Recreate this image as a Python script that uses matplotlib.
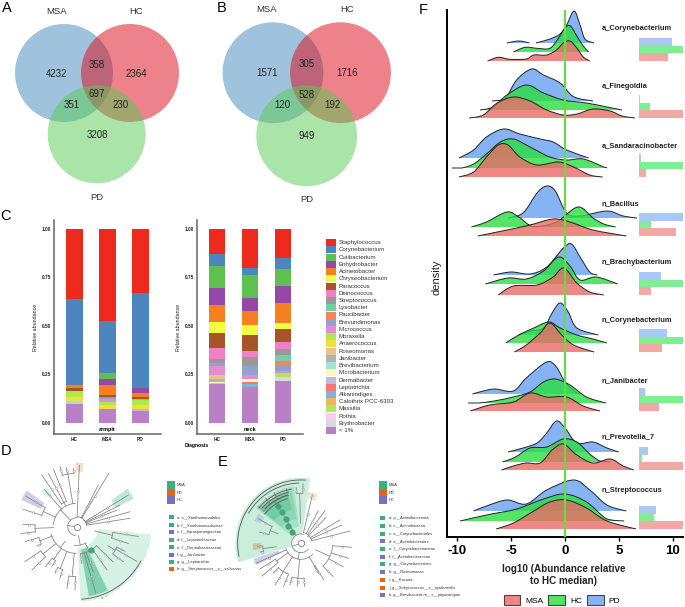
# -*- coding: utf-8 -*-
import numpy as np
import matplotlib
matplotlib.use('Agg')
import matplotlib.pyplot as plt
from matplotlib.patches import Circle, Rectangle, Patch, PathPatch
from matplotlib.path import Path

plt.rcParams['font.family'] = ['Liberation Sans', 'DejaVu Sans']
plt.rcParams['axes.unicode_minus'] = False

W, H = 685, 607

# ---- panels A, B : venn counts
venn_a = ['4232', '2364', '3208', '358', '351', '230', '697']
venn_b = ['1571', '1716', '949', '305', '120', '192', '528']

# ---- panel C : stacked bars, top of the stack first
taxa = ['Staphylococcus', 'Corynebacterium', 'Cutibacterium', 'Enhydrobacter', 'Acinetobacter',
        'Chryseobacterium', 'Paracoccus', 'Deinococcus', 'Streptococcus', 'Lysobacter', 'Paucibacter',
        'Brevundimonas', 'Micrococcus', 'Moraxella', 'Anaerococcus', 'Roseomonas', 'Janibacter',
        'Brevibacterium', 'Microbacterium', 'Dermabacter', 'Leptotrichia', 'Alkanindiges',
        'Calothrix PCC-6303', 'Massilia', 'Rothia', 'Erythrobacter', '< 1%']
taxa_colors = ['#EE2A1F', '#4D86BD', '#60C04F', '#9448A8', '#F58020', '#F2FF3C', '#A6552B', '#F27FC8',
               '#999999', '#73CFA5', '#F2875E', '#8FA3D3', '#E58BCE', '#AEE84F', '#F2DF3A', '#E5C48F',
               '#B3B3B3', '#9FE3D3', '#F7FBBD', '#BFB9DE', '#F4776B', '#80B3D6', '#F4B25F', '#B3E45F',
               '#F7CCE8', '#D9D9D9', '#B980C8']
groups = ['HC', 'MSA', 'PD']
armpit_hc = [.362, .445, 0, 0, .016, 0, .016, 0, 0, 0, 0, 0, 0, .028, .022, 0, 0, .017, 0, 0, 0, 0, 0, 0, 0, 0, .095]
armpit_msa = [.476, .271, .029, .028, .052, 0, .012, 0, .005, 0, 0, .007, .014, .016, .019, 0, 0, 0, 0, 0, 0, 0, 0, 0, 0, 0, .072]
armpit_pd = [.333, .490, 0, .028, .019, 0, .009, 0, 0, 0, 0, 0, .007, .026, .017, 0, 0, 0, 0, .014, 0, 0, 0, 0, 0, 0, .059]
neck_hc = [.126, .062, .116, .086, .086, .057, .081, .055, .019, 0, 0, .017, .047, 0, 0, .019, .016, 0, .006, 0, 0, 0, 0, .005, 0, 0, .200]
neck_msa = [.197, .036, .122, .066, .072, .050, .083, .031, .050, 0, 0, .043, .021, 0, 0, 0, 0, 0, .017, 0, .012, .012, 0, 0, 0, 0, .186]
neck_pd = [.147, .060, .084, .090, .105, .029, .069, .036, .031, .029, .028, .026, .010, .010, 0, 0, 0, 0, 0, 0, 0, 0, 0, .010, 0, .021, .214]

# ---- panels D, E : legends
marker_colors = {'g': '#3FAE7F', 'o': '#E3651B', 'p': '#7B6FBF'}
legend_d = ['a: o__Xanthomonadales', 'b: f__Xanthomonadaceae', 'c: f__Intrasporangiaceae',
            'd: f__Leptotrichiaceae', 'e: f__Dermabacteraceae', 'f: g__Janibacter',
            'g: g__Leptotrichia', 'h: g__Streptococcus__s__salivarius']
legend_d_col = ['g', 'g', 'p', 'g', 'g', 'p', 'g', 'o']
legend_e = ['a: p__Actinobacteriota', 'b: c__Actinobacteria', 'c: o__Corynebacteriales',
            'd: o__Acetobacterales', 'e: f__Corynebacteriaceae', 'f: f__Acetobacteraceae',
            'g: g__Corynebacterium', 'h: g__Roseomonas', 'i: g__Kocuria',
            'j: g__Streptococcus__s__epidermidis', 'k: g__Brevibacterium__s__pityocampae']
legend_e_col = ['g', 'g', 'g', 'p', 'g', 'p', 'g', 'p', 'o', 'o', 'p']

# cladograms: (stem radius, arc radius, [(tip angle, tip radius), ...])
tree_d = [(0, 27, [(85, 27), (262, 27)]),
          (27, 30, [(87.5, 185), (62.5, 140), (59, 186), (31.5, 182), (26.5, 145), (22.6, 130), (15.7, 166), (9, 162)]),
          (27, 70, [(93, 70), (175, 70)]),
          (70, 160, [(105.5, 187), (100, 180), (93, 175)]),
          (70, 82, [(124, 188), (118, 180), (112, 185)]),
          (70, 95, [(131, 147)]),
          (70, 110, [(149, 177), (162, 168)]),
          (70, 125, [(177.5, 160), (187, 168)]),
          (27, 56, [(262, 56), (300, 56)]),
          (56, 80, [(196, 80), (268, 80)]),
          (80, 118, [(196, 161), (206, 133)]),
          (80, 130, [(214, 187), (224, 187)]),
          (80, 120, [(232, 153), (238, 140)]),
          (80, 135, [(245, 154), (252, 163)]),
          (80, 150, [(261, 187), (268.5, 190)]),
          (56, 82, [(278, 111), (290, 144), (305, 158), (316, 152)]),
          (82, 100, [(286, 208)]),
          (56, 110, [(351, 187), (342, 163)]),
          (110, 135, [(333, 163), (330, 208), (323, 175)])]
tree_e = [(0, 28, [(75, 28), (320, 28)]),
          (28, 33, [(76.8, 149), (62, 110), (53.7, 122), (46, 108), (31, 136), (24, 134), (14, 151)]),
          (28, 132, [(122, 132)]),
          (132, 148, [(105, 170), (118, 172), (128, 172), (139, 170)]),
          (75, 100, [(150, 148), (165, 130)]),
          (75, 115, [(184, 131), (192, 125)]),
          (60, 150, [(88, 178), (95, 168)]),
          (28, 48, [(200, 48), (318, 48)]),
          (48, 66, [(204, 147)]),
          (48, 90, [(212, 146), (220, 153)]),
          (48, 100, [(227, 122), (238, 147), (248, 140)]),
          (48, 105, [(255, 129), (265, 130), (275, 130)]),
          (48, 80, [(302, 129), (300, 104)]),
          (48, 95, [(314, 139), (331, 145), (342.4, 149), (355.5, 152)])]
# highlight sectors: (angle from, angle to, radius from, radius to, colour)
sectors_d = [(273, 354, 65, 225, '#D5F2E4'), (280, 296, 70, 212, '#7FD0AE'),
             (127, 135, 125, 150, '#D5F2E4'), (144, 154, 120, 185, '#CFCDEA'),
             (84, 91, 165, 192, '#F6DFC8'), (26, 37, 130, 190, '#BFE9D4')]
sectors_e = [(82, 197, 28, 197, '#C9EEDC'), (97, 142, 50, 172, '#A6E0C6'), (100, 140, 75, 160, '#8DD6B5'),
             (105, 140, 105, 158, '#74CBA3'), (72, 82, 135, 155, '#F6DFC8'), (198, 206, 70, 150, '#CFCDEA'),
             (145, 154, 135, 155, '#B9CFE6'), (180, 188, 120, 145, '#C9C79A')]
arcs_d = [(218, 274, 332)]
arcs_e = [(190, 86, 192), (181, 92, 150), (165, 100, 140), (158, 104, 138), (150, 106, 136), (140, 107, 141)]
nodes_d = [(301, 82)]
nodes_e = [(126.6, 43), (126, 64), (122, 87), (122, 109), (122, 132)]

# ---- panel F : ridges, (x in log10 units, height of the density)
a_coryne_pd0 = [(-5.4, 0), (-4.3, 2), (-3.3, 0)]
a_coryne_pd = [(-2.7, 0), (-1.4, 4), (-.46, 9), (.15, 18), (.84, 32), (1.4, 18), (1.86, 4), (2.7, 0)]
a_coryne_hc = [(-4.8, 0), (-3.7, 4.7), (-2.6, 3.7), (-1.4, 3.7), (-.6, 14), (0, 24), (.5, 26), (1.1, 16), (1.7, 6), (2.2, 0)]
a_coryne_msa = [(-7.2, 0), (-6.2, 3.7), (-5.1, 1.7), (-3.6, 2), (-2.9, 6), (-1.7, 6), (-.8, 11), (-.15, 18), (.46, 20), (1.1, 13), (1.7, 4), (2.3, 0)]
finegoldia_pd = [(-6.8, 0), (-5.6, 2), (-4.5, 21), (-3.1, 32), (-2, 26), (-.46, 18), (.8, 4.3), (2.6, 0)]
finegoldia_hc = [(-7.9, 0), (-6.7, 3), (-5.4, 15), (-3.6, 25), (-2, 17), (-.15, 10), (2, 7), (3.9, 3), (5.3, 0)]
finegoldia_msa = [(-8.9, 0), (-7.6, 3), (-6.3, 15), (-4.8, 21), (-3.25, 17), (-1.7, 8), (-.15, 3), (1.1, 4), (2.6, 9), (4.2, 7), (5.3, 2), (6.5, 0)]
sandar_pd = [(-9.85, 0), (-8.5, 8), (-7.3, 21), (-5.7, 29), (-4.2, 24), (-2.3, 19), (-1.1, 16), (.15, 8), (2.2, 0)]
sandar_hc = [(-10.5, 0), (-9.6, 0), (-8.5, 4), (-7.3, 14), (-6, 26), (-4.8, 29), (-3.25, 21), (-1.4, 11), (.15, 8), (1.7, 9), (3.6, 1), (3.9, 0)]
sandar_msa = [(-9.85, 0), (-8.5, 5), (-7.3, 20), (-6.2, 32), (-5.3, 32), (-4.2, 20), (-2.6, 12), (-.6, 15), (.8, 10), (2.3, 2), (3.5, 0)]
bacillus_pd = [(-5.3, 0), (-3.9, 5), (-2.6, 25), (-1.7, 32), (-.9, 27), (.15, 5), (1.4, 2), (3.9, 7), (5.4, 2), (6.7, 0)]
bacillus_hc = [(-8.7, 0), (-7.3, 5), (-5.4, 15), (-4.3, 10), (-2.9, .3), (-.8, 5), (1.2, 20), (2.6, 9), (3.6, 3), (4.7, 0)]
bacillus_msa = [(-8.1, 0), (-5.4, 6), (-3.25, 11), (-1.1, 17), (.46, 14), (2.6, 6), (5.7, 0)]
brachy_pd = [(-6.65, 0), (-5, 3), (-3.25, 1), (-1.7, 8), (-.15, 27), (.6, 31), (1.4, 18), (2.3, 3), (3, 0)]
brachy_hc = [(-7.4, 0), (-5.3, 6), (-3.6, 5), (-2, 13), (-.6, 27), (.46, 18), (1.4, 4), (2.9, 7), (4.9, 0)]
brachy_msa = [(-6.2, 0), (-4.8, 9), (-2.6, 10), (-1.1, 18), (-.1, 27), (1.1, 12), (2.3, 3), (3.6, 0)]
n_coryne_pd = [(-4.3, 0), (-3.25, 4), (-2, 7), (-1.2, 22), (-.46, 32), (.3, 23), (1.1, 7), (3.1, 0)]
n_coryne_hc = [(-5.5, 0), (-4.3, 8), (-2.9, 15), (-1.5, 21), (-.46, 15), (1.1, 8), (2.6, 4), (3.9, 0)]
n_coryne_msa = [(-4.7, 0), (-3.6, 7), (-2.3, 19), (-1.4, 29), (-.3, 17), (.8, 7), (2.7, 0)]
janib_pd = [(-8.6, 0), (-7.6, 3), (-6.5, 5), (-4.8, 3), (-3.6, 16), (-1.7, 32), (-.8, 27), (0, 12), (1.1, 1), (1.4, 0)]
janib_hc = [(-9, 0), (-8, 0), (-6.6, 2), (-4.8, 6), (-3.25, 11), (-2, 21), (-.9, 24), (.46, 18), (2, 6), (3.8, 0)]
janib_msa = [(-8.8, 0), (-7, 6), (-4.8, 9), (-3.25, 18), (-1.7, 14), (.15, 14), (1.7, 5), (3.25, 0)]
prevot_pd = [(-5.3, 0), (-3.9, 4), (-2.6, 9), (-1.7, 19), (-.8, 31), (0, 24), (1.1, 9), (2.6, 10), (3.9, 4), (5, 0)]
prevot_hc = [(-5.8, 0), (-4.6, 5), (-3.25, 14), (-1.7, 15), (-.15, 23), (1.1, 20), (2.3, 8), (3.25, 1), (4.2, 0)]
prevot_msa = [(-5.9, 0), (-4.8, 4), (-3.6, 7), (-2.3, 7), (-1.2, 20), (-.15, 26), (1.1, 15), (2.6, 7), (4.2, 11), (5.4, 4), (6.4, 0)]
strep_pd = [(-8.5, 0), (-7.3, 5), (-5.4, 11), (-3.6, 7), (-1.7, 21), (.8, 31), (2.3, 21), (3.9, 6), (5.7, 0)]
strep_hc = [(-9.75, 0), (-7.3, 6), (-4.5, 12), (-2, 22), (0, 27), (2, 19), (3.9, 2), (5.5, 0)]
strep_msa = [(-6.4, 0), (-4.8, 6), (-2.9, 18), (-1.4, 27), (.15, 29), (2, 21), (3.9, 8), (6.6, 0)]

ridge_names = ['a_Corynebacterium', 'a_Finegoldia', 'a_Sandaracinobacter', 'n_Bacillus', 'n_Brachybacterium',
               'n_Corynebacterium', 'n_Janibacter', 'n_Prevotella_7', 'n_Streptococcus']
ridge_pd = [a_coryne_pd, finegoldia_pd, sandar_pd, bacillus_pd, brachy_pd, n_coryne_pd, janib_pd, prevot_pd, strep_pd]
ridge_hc = [a_coryne_hc, finegoldia_hc, sandar_hc, bacillus_hc, brachy_hc, n_coryne_hc, janib_hc, prevot_hc, strep_hc]
ridge_msa = [a_coryne_msa, finegoldia_msa, sandar_msa, bacillus_msa, brachy_msa, n_coryne_msa, janib_msa, prevot_msa, strep_msa]
# share of samples, small bars on the right
share_pd = [.74, .02, .04, 1, .49, .63, .12, .21, .38]
share_hc = [1, .24, 1, .27, 1, 1, 1, .07, .34]
share_msa = [.66, 1, .15, .83, .26, .52, .45, 1, 1]

# baseline of each ridge, in figure pixels from the top
base_pd = [43, 101, 158, 218, 275, 335, 394, 452, 511]
base_hc = [52, 110, 168, 227, 284, 343, 403, 462, 521]
base_msa = [61, 118, 177, 236, 295, 352, 411, 470, 529]
label_y = [29, 87, 146, 204, 263, 321, 381, 437, 490]

col_msa, col_hc, col_pd = '#EA6A66', '#2ADE40', '#68A0F2'


def axes_px(left, top, right, bottom, **kw):
    return fig.add_axes([left / W, 1 - bottom / H, (right - left) / W, (bottom - top) / H], **kw)


def draw_venn(centers, radius, counts, spots, names):
    for (cx, cy), c in zip(centers, ['#4189BD', '#DD0717', '#59CB53']):
        bg.add_patch(Circle((cx, cy), radius, color=c, alpha=.5, lw=0))
    for t, (x, y) in zip(counts, spots):
        bg.text(x, y, t, ha='center', va='center', fontsize=7, color='#222222')
    for t, (x, y) in names:
        bg.text(x, y, t, ha='center', va='center', fontsize=6.8, color='#333333')


def stacked(ax, columns, title):
    for i, col in enumerate(columns):
        bottom = 0
        for v, c in zip(col[::-1], taxa_colors[::-1]):
            if v > 0:
                ax.bar(i, v, .5, bottom=bottom, color=c, lw=0)
            bottom += v
    ax.set_xlim(-.606, 2.616)
    ax.set_ylim(-.0586, 1.0466)
    ax.set_xticks(range(3), groups)
    ax.set_yticks([0, .25, .5, .75, 1], ['0.00', '0.25', '0.50', '0.75', '1.00'])
    ax.tick_params(labelsize=3.4, length=0, pad=2, colors='#222222')
    for lab in ax.get_xticklabels() + ax.get_yticklabels():
        lab.set_fontweight('bold')
    ax.set_ylabel('Relative abundance', fontsize=3.8, labelpad=3, color='#222222')
    for s in ['top', 'right']:
        ax.spines[s].set_visible(False)
    for s in ['left', 'bottom']:
        ax.spines[s].set_color('#666666')
        ax.spines[s].set_linewidth(1.1)
    ax.text(1, -.035, title, ha='center', va='center', fontsize=4, fontweight='bold')


def cladogram(cx, cy, size, tree, sectors, arcs, nodes):
    ax = axes_px(cx - size, cy - size, cx + size, cy + size, polar=True)
    ax.set_axis_off()
    ax.patch.set_alpha(0)
    ax.set_rlim(0, size * 3)
    for a0, a1, r0, r1, c in sectors:
        ax.bar(np.radians((a0 + a1) / 2), r1 - r0, width=np.radians(a1 - a0), bottom=r0, color=c, lw=0)
    line = dict(color='#808080', lw=.55)
    for stem, arc, tips in tree:
        angs = [t[0] for t in tips]
        mid = np.radians(np.mean(angs))
        ax.plot([mid, mid], [stem, arc], **line)
        ax.plot(np.radians(np.arange(min(angs), max(angs) + 1, 1)),
                np.full(len(np.arange(min(angs), max(angs) + 1, 1)), arc), **line)
        for a, r in tips:
            if r > arc:
                th = np.radians(a)
                ax.plot([th, th], [arc, r], **line)
                ax.plot([th], [(arc + r) / 2], 'o', ms=1.4, mfc='white', mec='#808080', mew=.3)
    ax.plot([0], [0], 'o', ms=4.5, mfc='white', mec='#808080', mew=.6)
    for r, a0, a1 in arcs:
        th = np.radians(np.arange(a0, a1 + 1, 1))
        ax.plot(th, np.full(len(th), r), color='#555555', lw=.6)
    for a, r in nodes:
        ax.plot([np.radians(a)], [r], 'o', ms=4, mfc='#3FA77A', mec='#5E9F85', mew=.4)
    ax.set_rlim(0, size * 3)


def clade_legend(x_big, x_small, x_txt, ys_big, ys_small, labels, cols):
    for y, c, t in zip(ys_big, 'gop', ['MSA', 'PD', 'HC']):
        bg.add_patch(Rectangle((x_big, y - 3.6), 8, 7.2, color=marker_colors[c], lw=0))
        bg.text(x_txt, y, t, va='center', fontsize=2.9, color='#333333')
    for y, c, t in zip(ys_small, cols, labels):
        bg.add_patch(Rectangle((x_small, y - 2.2), 4.6, 4.4, color=marker_colors[c], lw=0))
        bg.text(x_txt, y, t, va='center', fontsize=2.9, color='#333333')


def curve(xy, base):
    # smooth outline through the points
    p = np.array([(x, base - h) for x, h in xy], float)
    verts, codes = [p[0]], [Path.MOVETO]
    for i in range(len(p) - 1):
        prev = p[max(i - 1, 0)]
        nxt = p[min(i + 2, len(p) - 1)]
        c1 = p[i] + (p[i + 1] - prev) / 6
        c2 = p[i + 1] - (nxt - p[i]) / 6
        c1[1] = min(c1[1], base)
        c2[1] = min(c2[1], base)
        verts += [c1, c2, p[i + 1]]
        codes += [Path.CURVE4] * 3
    return verts, codes


def ridge(ax, xy, base, color, z):
    verts, codes = curve(xy, base)
    ax.add_patch(PathPatch(Path(verts + [verts[0]], codes + [Path.LINETO]), fc=color, ec='none', alpha=.8, zorder=z))
    ax.add_patch(PathPatch(Path(verts, codes), fc='none', ec='#222222', lw=.7, zorder=z + .1))


fig = plt.figure(figsize=(W / 100, H / 100), dpi=100)
bg = fig.add_axes([0, 0, 1, 1])
bg.set_xlim(0, W)
bg.set_ylim(H, 0)
bg.axis('off')

for letter, x, y in [('A', 7, 8), ('B', 222, 8), ('C', 6, 216), ('D', 6, 451), ('E', 223, 462), ('F', 423, 10)]:
    bg.text(x, y, letter, ha='center', va='center', fontsize=10.5, color='black')

draw_venn([(64, 73), (130, 73), (96.7, 134.3)], 49, venn_a,
          [(57, 74), (136, 74), (97, 135), (97, 65), (72, 105), (121, 105), (97, 94)],
          [('MSA', (57, 12)), ('HC', (136, 12)), ('PD', (97, 197))])
draw_venn([(273, 72.7), (340.5, 72.7), (306.7, 135.8)], 50.4, venn_b,
          [(267, 73), (347, 73), (307, 136), (307, 64), (282, 105), (332, 105), (307, 95)],
          [('MSA', (267, 10)), ('HC', (347, 10)), ('PD', (307, 199))])

stacked(axes_px(54.3, 220, 160.7, 434), [armpit_hc, armpit_msa, armpit_pd], 'armpit')
stacked(axes_px(197.3, 220, 303.3, 434), [neck_hc, neck_msa, neck_pd], 'neck')
bg.text(197, 445, 'Diagnosis', ha='center', va='center', fontsize=3.6, fontweight='bold')
for i, (t, c) in enumerate(zip(taxa, taxa_colors)):
    yc = 242.7 + i * 7.23
    bg.add_patch(Rectangle((326.3, yc - 3.5), 9.7, 7, color=c, lw=0))
    bg.text(339, yc, t, va='center', fontsize=4.4, color='#333333')

cladogram(76.7, 526.7, 80, tree_d, sectors_d, arcs_d, nodes_d)
cladogram(301, 543.3, 72, tree_e, sectors_e, arcs_e, nodes_e)
clade_legend(167, 169, 177, [485, 492.5, 500],
             [517.3, 525, 532.3, 540, 547.3, 554.7, 562, 569.3], legend_d, legend_d_col)
clade_legend(379, 380, 389, [485, 492.5, 500],
             [517.7, 525.7, 533.7, 541, 549, 556.7, 564.3, 572.3, 580, 587.7, 595.3], legend_e, legend_e_col)
bg.text(122, 577, 'h: g__Streptococcus__s__salivarius', rotation=47, ha='center', va='center', fontsize=2.6, color='#444444')

# ---- panel F
ax = axes_px(447, 10, 683, 537)
ax.set_xlim(-10.97, 10.97)
ax.set_ylim(537, 10)
ax.patch.set_alpha(0)
for i, name in enumerate(ridge_names):
    if i == 0:
        ridge(ax, a_coryne_pd0, base_pd[i], col_pd, 2)
    ridge(ax, ridge_pd[i], base_pd[i], col_pd, 2 + i * 3)
    ridge(ax, ridge_hc[i], base_hc[i], col_hc, 3 + i * 3)
    ridge(ax, ridge_msa[i], base_msa[i], col_msa, 4 + i * 3)
    ax.text(3.4, label_y[i], name, fontsize=5.4, fontweight='bold', color='#222222', va='center', zorder=60)
    for v, off, lc in zip([share_msa[i], share_hc[i], share_pd[i]], [3.8, 11.5, 19.2],
                          ['#F2A9A6', '#7EEF92', '#A9C8F5']):
        ax.barh(base_msa[i] - off, v * 4.1, height=7.7, left=6.9, color=lc, lw=0, zorder=50)
ax.axvline(0, color='#66DD44', lw=1.6, zorder=70)
ax.set_yticks([])
ax.set_xticks([-10, -5, 0, 5, 10])
ax.tick_params(axis='x', length=3, width=1, pad=3, labelsize=9.5)
for lab in ax.get_xticklabels():
    lab.set_fontweight('bold')
for s in ['top', 'right']:
    ax.spines[s].set_visible(False)
for s in ['left', 'bottom']:
    ax.spines[s].set_linewidth(1.4)
bg.text(564, 574.5, 'log10 (Abundance relative\nto HC median)', ha='center', va='center',
        fontsize=7.1, fontweight='bold', color='#222222', linespacing=1.25)
bg.text(437, 277, 'density', rotation=90, ha='center', va='center', fontsize=8, color='#222222')
fig.legend(handles=[Patch(fc=col_msa, alpha=.8, ec='#222222', lw=.8, label='MSA'),
                    Patch(fc=col_hc, alpha=.8, ec='#222222', lw=.8, label='HC'),
                    Patch(fc=col_pd, alpha=.8, ec='#222222', lw=.8, label='PD')],
           loc='center', bbox_to_anchor=(562 / W, 1 - 600 / H), ncol=3, frameon=False, fontsize=6,
           handlelength=2, handleheight=1.45, handletextpad=.6, columnspacing=.6)

fig.savefig('out.png', dpi=100)
